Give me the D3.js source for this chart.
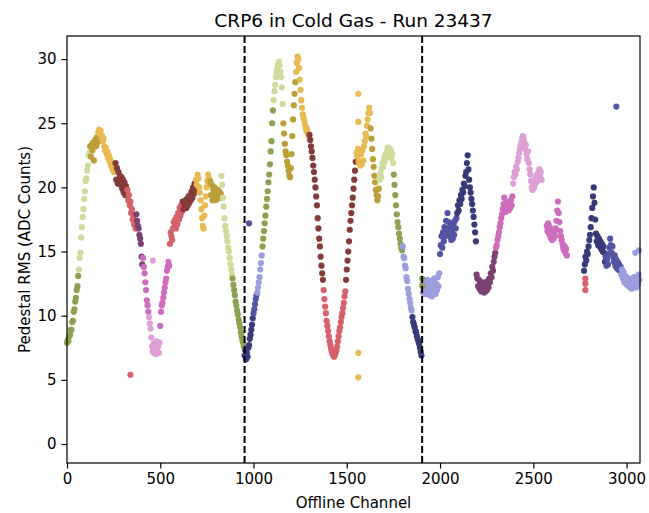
<!DOCTYPE html>
<html>
<head>
<meta charset="utf-8">
<script src="https://cdn.jsdelivr.net/npm/d3@7"></script>
<style>
  body { margin: 0; background: #fff; }
  text { font-family: "DejaVu Sans", sans-serif; }
</style>
</head>
<body>
<div id="chart"></div>
<script>
// pedestal RMS, one value every 4 offline channels (null = no point)
const step = 4;
const rms = [
  7.9, 8.1, 8.0, 8.4, 8.5, 8.9, 8.9, 9.5, 9.6, 10.3, 10.5, 11.1, 11.4, 12.0, 12.3, 13.1,
  13.6, 14.5, 14.9, 16.1, 16.9, 17.7, 18.3, 19.1, 19.7, 20.5, 20.7, 21.3, 21.7, 22.5, 22.7, 23.2,
  22.4, 23.3, 22.9, 23.5, 22.1, 23.4, 23.7, 23.2, 23.9, 23.5, 24.3, 24.5, 24.1, 24.4, 23.9, 24.0,
  23.6, 23.8, 23.2, 22.9, 23.1, 22.6, 22.8, 22.3, 22.5, 22.0, 22.2, 21.7, 21.8, 21.4, 21.6, 21.2,
  21.3, 21.9, 20.6, 21.5, 20.3, 21.2, 20.5, 20.9, 20.2, 20.8, 19.9, 20.6, 19.6, 20.4, 19.4, 20.1,
  19.6, 19.8, 19.0, 19.4, 18.6, 18.9, 18.0, 18.3, 17.5, 17.8, 17.1, 17.3, 16.8, 17.9, 17.4, 17.0,
  16.8, 16.3, 16.0, 15.6, 14.6, 14.0, 14.5, 13.8, 13.3, 12.6, 12.0, 11.2, 10.8, 10.3, 9.9, 9.4,
  9.0, 8.3, 7.6, 7.2, 7.8, 7.1, 7.4, 7.0, 8.0, 7.3, 7.6, 7.1, 7.9, 9.2, 10.3, 10.8,
  11.0, 11.4, 11.8, 12.2, 12.6, 12.9, 13.5, 13.8, 14.2, 13.9, 15.6, 16.5, 16.2, 15.9, 16.8, 17.3,
  16.9, 17.5, 16.8, 17.7, 17.1, 18.0, 17.5, 18.4, 17.8, 18.6, 18.1, 18.9, 18.3, 18.8, 18.5, 19.0,
  18.4, 19.1, 18.6, 19.3, 18.8, 19.4, 19.0, 19.7, 19.2, 20.0, 19.5, 20.3, 19.8, 20.6, 20.2, 21.0,
  20.7, 20.0, 19.6, 19.0, 18.3, 17.6, 17.0, 16.8, 17.8, 18.6, 19.3, 20.0, 20.5, 21.0, 20.7, 20.3,
  20.5, 19.4, 20.2, 19.0, 19.8, 19.2, 20.0, 19.0, 19.6, 19.1, 19.8, 19.3, 19.7, 19.2, 19.5, 20.9,
  20.2, 19.2, 18.5, 17.6, 17.0, 16.6, 16.2, 15.8, 15.3, 15.0, 14.5, 14.0, 13.6, 13.2, 12.9, 12.4,
  12.0, 11.6, 11.1, 10.8, 10.4, 10.1, 9.7, 9.4, 9.1, 8.7, 8.4, 8.1, 7.9, 7.6, 6.9, 7.3,
  6.6, 7.1, 6.8, 7.5, 7.7, 8.2, 8.5, 8.9, 9.3, 9.8, 10.2, 10.5, 10.9, 11.3, 11.6, 11.8,
  12.2, 12.6, 13.0, 13.6, 14.1, 14.7, 15.4, 16.0, 16.6, 17.2, 17.8, 18.5, 19.1, 19.7, 20.4, 21.0,
  21.8, 22.8, 23.6, 25.0, 26.0, 26.8, 27.5, 28.0, 28.6, 29.0, 29.3, 29.6, 29.8, 29.5, 29.0, 28.6,
  27.8, 26.5, 25.0, 24.2, 23.4, 22.8, 22.5, 22.0, 21.7, 21.3, 20.9, 20.8, 21.5, 22.6, 24.0, 25.3,
  26.4, 27.3, 28.2, 29.0, 29.7, 30.2, 30.0, 29.3, 28.4, 27.6, 26.8, 26.2, 25.7, 25.4, 25.2, 24.9,
  24.6, 24.4, 24.6, 24.2, 24.0, 24.1, 23.7, 23.2, 22.8, 22.3, 21.7, 21.2, 20.6, 20.0, 19.3, 18.6,
  17.6, 16.8, 16.0, 15.4, 14.6, 13.9, 13.3, 12.8, 12.0, 11.3, 10.7, 10.2, 9.6, 9.2, 8.8, 8.4,
  8.0, 7.7, 7.4, 7.2, 7.0, 6.9, 6.8, 6.9, 7.1, 7.3, 7.6, 8.0, 8.4, 8.8, 9.1, 9.5,
  9.9, 10.2, 10.6, 11.0, 11.5, 11.9, 12.8, 13.6, 14.3, 15.0, 15.8, 16.7, 17.4, 18.0, 18.6, 19.2,
  19.9, 20.6, 21.3, 22.0, 22.7, 22.4, 23.0, 22.0, 22.8, 21.7, 22.6, 21.8, 22.9, 22.1, 23.2, 23.6,
  24.2, 24.0, 24.8, 25.3, 25.8, 26.2, 25.8, 24.6, 23.8, 23.0, 22.2, 21.6, 20.9, 20.4, 19.8, 19.4,
  19.0, 19.3, 19.9, 20.6, 21.1, 20.8, 21.5, 21.9, 21.6, 22.3, 22.0, 22.6, 22.3, 22.8, 23.1, 22.6,
  23.0, 22.5, 22.9, 22.3, 22.6, 21.9, 21.0, 20.2, 19.4, 18.6, 17.9, 17.3, 16.9, 16.4, 16.0, 15.6,
  15.3, 15.1, 15.4, 14.6, 14.5, 13.9, 13.7, 13.0, 12.7, 12.1, 11.7, 11.3, 11.0, 10.6, 10.4, 9.9,
  9.5, 9.3, 9.1, 8.8, 8.7, 8.4, 8.2, 8.0, 7.8, 7.5, 7.2, 6.9, 12.4, 11.8, 12.6, 12.1,
  11.7, 12.5, 12.0, 12.8, 11.9, 12.3, 11.6, 12.7, 12.1, 11.5, 12.4, 11.8, 12.9, 12.2, 11.7, 12.5,
  12.0, 13.0, 12.3, 13.3, 14.8, 15.5, 16.2, 15.3, 16.5, 15.8, 16.9, 16.2, 17.4, 16.5, 18.0, 16.8,
  17.3, 16.2, 16.9, 15.9, 16.5, 16.0, 17.1, 16.3, 17.4, 16.8, 17.6, 18.0, 18.6, 18.2, 19.0, 18.7,
  19.4, 19.1, 19.8, 19.6, 20.3, 20.1, 20.9, 21.2, 21.9, 22.5, 21.4, 20.6, 20.0, 19.6, 19.1, 18.7,
  18.2, 17.7, 17.1, 16.5, 15.8, 13.2, 12.9, 12.3, 12.8, 12.1, 12.5, 11.9, 12.4, 12.0, 12.6, 11.8,
  12.3, 11.9, 12.5, 12.0, 12.7, 12.2, 12.9, 12.6, 13.3, 13.0, 13.8, 13.5, 14.2, 14.6, 14.9, 15.3,
  15.5, 15.9, 16.2, 16.5, 16.9, 17.2, 17.6, 17.9, 18.3, 18.7, 19.2, 18.5, 18.1, 18.8, 18.3, 18.6,
  18.2, 18.9, 18.4, 19.0, 18.6, 19.3, 20.3, 20.8, 21.2, 21.0, 21.6, 21.4, 22.0, 22.3, 22.7, 23.0,
  23.3, 23.5, 23.8, 24.0, 23.8, 23.5, 23.0, 23.3, 22.6, 22.2, 22.8, 21.9, 21.4, 21.0, 20.5, 20.0,
  19.8, 20.3, 20.0, 20.6, 20.3, 20.9, 20.5, 21.1, 20.7, 21.4, 20.9, 21.2, 20.6, null, null, null,
  null, null, null, 17.0, 16.6, 17.2, 16.4, 16.9, 16.1, 16.6, 15.9, 16.4, 16.0, 16.5, 16.2, 16.8,
  17.4, 18.2, 18.9, 18.0, 17.3, 16.6, 16.2, 15.9, 15.6, 15.3, 15.1, 15.4, 14.9, 15.2, 14.7, null,
  null, null, null, null, null, null, null, null, null, null, null, null, null, null, null, null,
  null, null, null, null, null, 13.5, 14.0, 14.6, 14.3, 15.0, 14.8, 15.4, 15.9, 16.3, 16.9, 17.6,
  18.4, 19.3, 20.0, 18.8, 17.5, 16.4, 15.8, 16.2, 15.5, 16.0, 15.4, 15.8, 15.2, 15.6, 15.0, 15.4,
  14.9, 14.2, 14.6, 13.9, 14.4, 14.0, 14.8, 15.3, 16.0, 15.5, 14.9, 15.4, 14.6, 14.2, 14.7, 13.9,
  14.4, 13.7, 14.2, 13.6, 14.0, 13.5, 13.8, 13.2, 13.6, 12.9, 13.4, 12.6, 13.1, 12.5, 13.0, 12.4,
  12.9, 12.3, 12.8, 12.2, 12.7, 12.1, 12.9, 12.4, 13.0, 12.3, 12.8, 12.2, 12.9, 12.5, 13.2, 12.8
];

// channel groups: first channel of each group and its tab20b colour index
const segStart = [0, 62, 122, 165, 258, 322, 372, 408, 440, 500, 550, 620, 690, 765, 825, 885,
  952, 1000, 1020, 1045, 1105, 1160, 1225, 1300, 1375, 1495, 1550, 1625, 1675, 1750, 1800, 1850,
  1904, 2000, 2090, 2195, 2300, 2390, 2570, 2770, 2885, 2970];
const segColor = [5, 7, 9, 10, 12, 14, 16, 18, 19, 18, 14, 12, 10, 9, 7, 5,
  0, 1, 3, 5, 7, 9, 10, 12, 14, 12, 10, 9, 7, 5, 3, 0,
  3, 1, 0, 16, 18, 19, 18, 0, 1, 3];

// stray points
const outCh = [340, 460, 976, 1562, 1562, 1562, 1562, 1904, 1906, 2779, 2779, 2779, 2945, 3047, 3066];
const outVal = [5.4, 14.3, 17.2, 27.3, 25.1, 7.1, 5.2, 12.9, 12.3, 12.0, 12.5, 12.9, 26.3, 14.9, 15.1];
const outColor = [14, 19, 1, 10, 10, 10, 10, 5, 5, 14, 14, 14, 1, 3, 3];

const viewBounds = [952, 1904];
const xTicks = [0, 500, 1000, 1500, 2000, 2500, 3000];
const yTicks = [0, 5, 10, 15, 20, 25, 30];

const tab20b = ["#393b79", "#5254a3", "#6b6ecf", "#9c9ede", "#637939", "#8ca252", "#b5cf6b", "#cedb9c",
  "#8c6d31", "#bd9e39", "#e7ba52", "#e7cb94", "#843c39", "#ad494a", "#d6616b", "#e7969c",
  "#7b4173", "#a55194", "#ce6dbd", "#de9ed6"];

const width = 649, height = 513;
const margin = { top: 36, right: 9, bottom: 50, left: 67 };

const svg = d3.select("#chart").append("svg")
  .attr("width", width).attr("height", height)
  .style("background", "#fff");

const x = d3.scaleLinear().domain([0, 3072]).range([margin.left, width - margin.right]);
const y = d3.scaleLinear().domain([-1.48, 31.8]).range([height - margin.bottom, margin.top]);

function colorOf(ch) {
  let k = d3.bisectRight(segStart, ch) - 1;
  return tab20b[segColor[Math.max(0, k)]];
}

const points = rms.map((v, i) => ({ ch: i * step, v: v }))
  .filter(d => d.v !== null);
outCh.forEach((c, i) => points.push({ ch: c, v: outVal[i], col: tab20b[outColor[i]] }));

const plot = svg.append("g");
plot.selectAll("circle").data(points).enter().append("circle")
  .attr("cx", d => x(d.ch))
  .attr("cy", d => y(d.v))
  .attr("r", 3.1)
  .attr("fill", d => d.col || colorOf(d.ch));

// view boundaries
svg.selectAll("line.view").data(viewBounds).enter().append("line")
  .attr("class", "view")
  .attr("x1", d => x(d)).attr("x2", d => x(d))
  .attr("y1", margin.top).attr("y2", height - margin.bottom)
  .attr("stroke", "#000").attr("stroke-width", 2)
  .attr("stroke-dasharray", "7,3");

// axes
const xAxis = svg.append("g")
  .attr("transform", `translate(0,${height - margin.bottom})`)
  .call(d3.axisBottom(x).tickValues(xTicks).tickSize(5.5).tickPadding(5).tickFormat(d3.format("d")));
const yAxis = svg.append("g")
  .attr("transform", `translate(${margin.left},0)`)
  .call(d3.axisLeft(y).tickValues(yTicks).tickSize(5.5).tickPadding(5).tickFormat(d3.format("d")));
[xAxis, yAxis].forEach(g => {
  g.select(".domain").remove();
  g.selectAll("line").attr("stroke", "#000").attr("stroke-width", 1.2);
  g.selectAll("text").style("font-size", "15px").attr("fill", "#000")
    .style("font-family", "'DejaVu Sans', sans-serif");
});

svg.append("rect")
  .attr("x", margin.left).attr("y", margin.top)
  .attr("width", width - margin.right - margin.left)
  .attr("height", height - margin.bottom - margin.top)
  .attr("fill", "none").attr("stroke", "#000").attr("stroke-width", 1.2);

svg.append("text")
  .attr("x", (margin.left + width - margin.right) / 2)
  .attr("y", 27)
  .attr("text-anchor", "middle")
  .style("font-size", "18.5px")
  .text("CRP6 in Cold Gas - Run 23437");

svg.append("text")
  .attr("x", (margin.left + width - margin.right) / 2)
  .attr("y", 508)
  .attr("text-anchor", "middle")
  .style("font-size", "15px")
  .text("Offline Channel");

svg.append("text")
  .attr("transform", `translate(25,${(margin.top + height - margin.bottom) / 2}) rotate(-90)`)
  .attr("dy", "0.35em")
  .attr("text-anchor", "middle")
  .style("font-size", "15px")
  .text("Pedestal RMS (ADC Counts)");
</script>
</body>
</html>
